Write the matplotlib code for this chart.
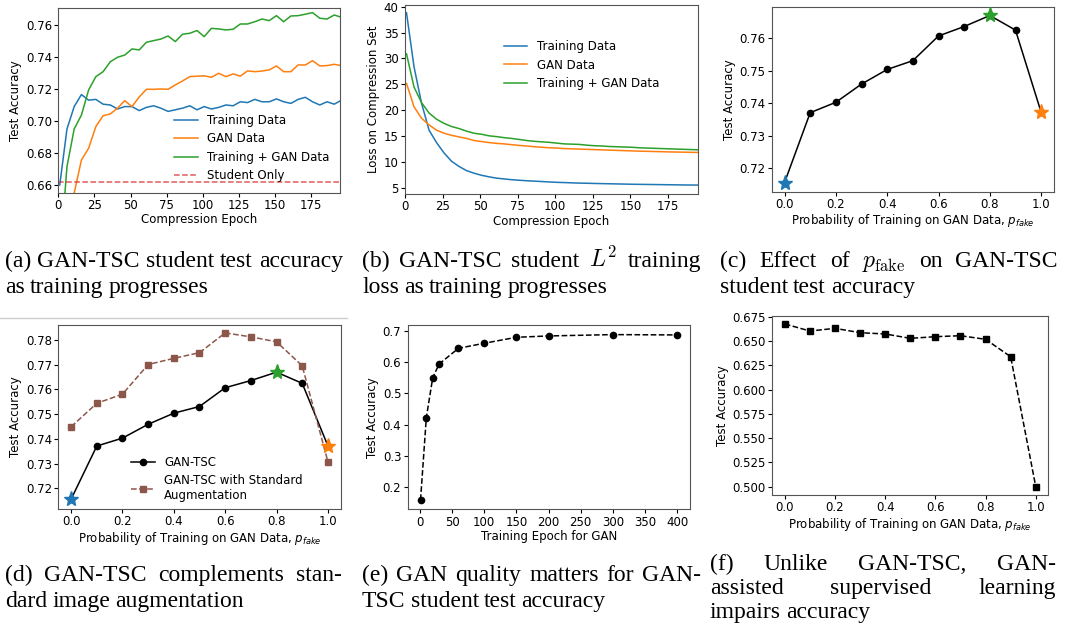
import numpy as np
import matplotlib
matplotlib.use('Agg')
import matplotlib.pyplot as plt
from matplotlib.lines import Line2D

W, H = 1067, 625

# (a)/(b): compression epochs
epochs = list(range(1, 197, 5))
acc_train = [0.660, 0.695, 0.709, 0.7165, 0.713, 0.7135, 0.7105, 0.710, 0.7075, 0.709,
             0.709, 0.7065, 0.7085, 0.7095, 0.708, 0.706, 0.707, 0.708, 0.7095, 0.707,
             0.709, 0.7075, 0.7085, 0.710, 0.7095, 0.712, 0.7115, 0.7135, 0.712, 0.712,
             0.7138, 0.712, 0.711, 0.7135, 0.7148, 0.712, 0.710, 0.712, 0.7105, 0.713]
acc_gan = [0.590, 0.625, 0.655, 0.6756, 0.683, 0.6965, 0.7033, 0.7044, 0.708, 0.7127,
           0.709, 0.715, 0.7198, 0.7198, 0.720, 0.7198, 0.7225, 0.725, 0.7277, 0.728,
           0.7282, 0.7273, 0.7298, 0.7277, 0.7294, 0.728, 0.7313, 0.7308, 0.7312, 0.7319,
           0.7344, 0.7308, 0.7308, 0.735, 0.735, 0.7377, 0.7344, 0.7346, 0.7354, 0.7346]
acc_both = [0.613, 0.6715, 0.695, 0.7037, 0.7194, 0.7277, 0.7308, 0.737, 0.7398, 0.7412,
            0.745, 0.7444, 0.7492, 0.7502, 0.7512, 0.7531, 0.7496, 0.7542, 0.7548, 0.7565,
            0.7527, 0.7579, 0.7575, 0.7569, 0.7573, 0.7606, 0.7606, 0.762, 0.7637, 0.7627,
            0.7658, 0.762, 0.7656, 0.7658, 0.7667, 0.7677, 0.7642, 0.7637, 0.7662, 0.7648]
student_only = 0.662

loss_train = [38.8, 28.4, 21.4, 16.2, 13.8, 11.8, 10.2, 9.2, 8.4, 7.9,
              7.5, 7.2, 6.95, 6.8, 6.65, 6.55, 6.45, 6.38, 6.3, 6.22,
              6.15, 6.1, 6.05, 6.0, 5.97, 5.93, 5.9, 5.87, 5.84, 5.81,
              5.78, 5.76, 5.74, 5.72, 5.7, 5.68, 5.66, 5.64, 5.63, 5.62]
loss_gan = [25.2, 20.7, 18.5, 17.2, 16.2, 15.6, 15.2, 14.9, 14.6, 14.2,
            14.0, 13.8, 13.65, 13.55, 13.4, 13.25, 13.15, 13.0, 12.9, 12.8,
            12.75, 12.65, 12.6, 12.55, 12.5, 12.45, 12.4, 12.35, 12.3, 12.25,
            12.2, 12.15, 12.12, 12.08, 12.05, 12.0, 11.98, 11.95, 11.92, 11.9]
loss_both = [30.9, 24.5, 21.5, 19.5, 18.3, 17.5, 16.9, 16.5, 16.0, 15.6,
             15.4, 15.1, 14.95, 14.75, 14.6, 14.4, 14.2, 14.05, 13.95, 13.85,
             13.7, 13.55, 13.5, 13.45, 13.3, 13.2, 13.15, 13.05, 13.0, 12.95,
             12.9, 12.8, 12.75, 12.7, 12.65, 12.6, 12.55, 12.5, 12.45, 12.4]

# (c)/(d)/(f): p_fake sweep
p_fake = [0.0, 0.1, 0.2, 0.3, 0.4, 0.5, 0.6, 0.7, 0.8, 0.9, 1.0]
tsc_acc = [0.7156, 0.7371, 0.7403, 0.7459, 0.7504, 0.7531, 0.7607, 0.7636, 0.767, 0.7625, 0.7372]
tsc_aug_acc = [0.7449, 0.7544, 0.7581, 0.7701, 0.7726, 0.7749, 0.7829, 0.7813, 0.7793, 0.7696, 0.7308]
sup_acc = [0.6675, 0.6602, 0.663, 0.6585, 0.6572, 0.6527, 0.6544, 0.6554, 0.6517, 0.6338, 0.500]

# (e): GAN training epochs
gan_epochs = [1, 10, 20, 30, 60, 100, 150, 200, 300, 400]
gan_acc = [0.1595, 0.4228, 0.5507, 0.5945, 0.6445, 0.6606, 0.6797, 0.684, 0.6883, 0.6872]

plt.rcParams['font.size'] = 8.5
plt.rcParams['axes.edgecolor'] = '#555555'
plt.rcParams['axes.linewidth'] = 0.8
plt.rcParams['xtick.major.size'] = 2.8
plt.rcParams['ytick.major.size'] = 2.8
plt.rcParams['xtick.major.pad'] = 1.8
plt.rcParams['ytick.major.pad'] = 1.8
plt.rcParams['axes.labelpad'] = 2.5

fig = plt.figure(figsize=(W / 100, H / 100), dpi=100)


def add_ax(l, r, t, b):
    return fig.add_axes([l / W, 1 - b / H, (r - l) / W, (b - t) / H])


PLAB = 'Probability of Training on GAN Data, $p_{fake}$'
LEG = dict(frameon=False, handlelength=2.0, labelspacing=0.45)

# (a)
ax = add_ax(58.3, 340, 8.3, 192.7)
ax.plot(epochs, acc_train, color='#1f77b4', lw=1.1, label='Training Data')
ax.plot(epochs, acc_gan, color='#ff7f0e', lw=1.1, label='GAN Data')
ax.plot(epochs, acc_both, color='#2ca02c', lw=1.1, label='Training + GAN Data')
ax.axhline(student_only, color='#d62728', ls='--', lw=1.1, alpha=0.75, label='Student Only')
ax.set_xlim(0, 195)
ax.set_ylim(0.6552, 0.7704)
ax.set_xticks(range(0, 176, 25))
ax.set_yticks([0.66, 0.68, 0.70, 0.72, 0.74, 0.76])
ax.set_xlabel('Compression Epoch', labelpad=1)
ax.set_ylabel('Test Accuracy')
ax.legend(loc='lower right', bbox_to_anchor=(1.0, 0.0), **LEG)

# (b)
ax = add_ax(405, 698, 5, 194)
ax.plot(epochs, loss_train, color='#1f77b4', lw=1.1, label='Training Data')
ax.plot(epochs, loss_gan, color='#ff7f0e', lw=1.1, label='GAN Data')
ax.plot(epochs, loss_both, color='#2ca02c', lw=1.1, label='Training + GAN Data')
ax.set_xlim(0, 195)
ax.set_ylim(3.9, 40.3)
ax.set_xticks(range(0, 176, 25))
ax.set_yticks([5, 10, 15, 20, 25, 30, 35, 40])
ax.set_xlabel('Compression Epoch', labelpad=1)
ax.set_ylabel('Loss on Compression Set')
ax.legend(loc='upper left', bbox_to_anchor=(0.3, 0.87), **LEG)

# (c)
ax = add_ax(771.7, 1054, 6.7, 191.7)
ax.plot(p_fake, tsc_acc, color='black', lw=1.1, marker='o', ms=4.5)
ax.plot(p_fake[0], tsc_acc[0], '*', color='#1f77b4', ms=11, zorder=5)
ax.plot(p_fake[8], tsc_acc[8], '*', color='#2ca02c', ms=11, zorder=5)
ax.plot(p_fake[10], tsc_acc[10], '*', color='#ff7f0e', ms=11, zorder=5)
ax.set_ylim(0.7128, 0.7697)
ax.set_yticks([0.72, 0.73, 0.74, 0.75, 0.76])
ax.set_xticks([0.0, 0.2, 0.4, 0.6, 0.8, 1.0])
ax.set_xlabel(PLAB, labelpad=1)
ax.set_ylabel('Test Accuracy')

# (d)
ax = add_ax(58.3, 340.7, 325, 509)
ax.plot(p_fake, tsc_acc, color='black', lw=1.1, marker='o', ms=4.5, label='GAN-TSC')
ax.plot(p_fake, tsc_aug_acc, color='#8c564b', lw=1.1, ls='--', marker='s', ms=4,
        label='GAN-TSC with Standard\nAugmentation')
ax.plot(p_fake[0], tsc_acc[0], '*', color='#1f77b4', ms=11, zorder=5)
ax.plot(p_fake[8], tsc_acc[8], '*', color='#2ca02c', ms=11, zorder=5)
ax.plot(p_fake[10], tsc_acc[10], '*', color='#ff7f0e', ms=11, zorder=5)
ax.set_ylim(0.7116, 0.7861)
ax.set_yticks([0.72, 0.73, 0.74, 0.75, 0.76, 0.77, 0.78])
ax.set_xticks([0.0, 0.2, 0.4, 0.6, 0.8, 1.0])
ax.set_xlabel(PLAB, labelpad=1)
ax.set_ylabel('Test Accuracy')
ax.legend(loc='lower left', bbox_to_anchor=(0.22, -0.02), frameon=False,
          handlelength=2.0, labelspacing=0.4)

# (e)
ax = add_ax(407.7, 690, 325, 509.3)
ax.plot(gan_epochs, gan_acc, color='black', lw=1.1, ls='--', marker='o', ms=4.5)
ax.set_ylim(0.1296, 0.719)
ax.set_xticks(range(0, 401, 50))
ax.set_xlabel('Training Epoch for GAN', labelpad=1)
ax.set_ylabel('Test Accuracy')

# (f)
ax = add_ax(772.3, 1048.3, 316, 495)
ax.plot(p_fake, sup_acc, color='black', lw=1.1, ls='--', marker='s', ms=4.2)
ax.set_ylim(0.4914, 0.6757)
ax.set_yticks([0.5, 0.525, 0.55, 0.575, 0.6, 0.625, 0.65, 0.675])
ax.set_xticks([0.0, 0.2, 0.4, 0.6, 0.8, 1.0])
ax.set_xlabel(PLAB, labelpad=1)
ax.set_ylabel('Test Accuracy')

# thin separator above the second row
fig.add_artist(Line2D([0, 347 / W], [1 - 318 / H, 1 - 318 / H], color='#cccccc', lw=1))

# captions, justified like the paper text
renderer = fig.canvas.get_renderer()
CAP = dict(family='Liberation Serif', size=17, math_fontfamily='cm', va='baseline')


def caption(lines, x0, x1, y0, dy):
    for i, line in enumerate(lines):
        words = line.split(' ')
        y = 1 - (y0 + i * dy) / H
        texts = [fig.text(0, y, w, **CAP) for w in words]
        widths = [t.get_window_extent(renderer=renderer).width for t in texts]
        if i < len(lines) - 1 and len(words) > 1:
            gap = (x1 - x0 - sum(widths)) / (len(words) - 1)
        else:
            gap = 5.0
        x = x0
        for t, w in zip(texts, widths):
            t.set_x(x / W)
            x += w + gap


caption(['(a) GAN-TSC student test accuracy', 'as training progresses'], 5, 343, 267, 26)
caption(['(b) GAN-TSC student $L^2$ training', 'loss as training progresses'], 362, 701, 267, 26)
caption(['(c) Effect of $p_{\\mathrm{fake}}$ on GAN-TSC', 'student test accuracy'], 720, 1058, 267, 26)
caption(['(d) GAN-TSC complements stan-', 'dard image augmentation'], 5, 342, 581, 26)
caption(['(e) GAN quality matters for GAN-', 'TSC student test accuracy'], 362, 701, 581, 26)
caption(['(f) Unlike GAN-TSC, GAN-', 'assisted supervised learning', 'impairs accuracy'],
        710, 1056, 570, 24)

fig.savefig('out.png', dpi=100)
